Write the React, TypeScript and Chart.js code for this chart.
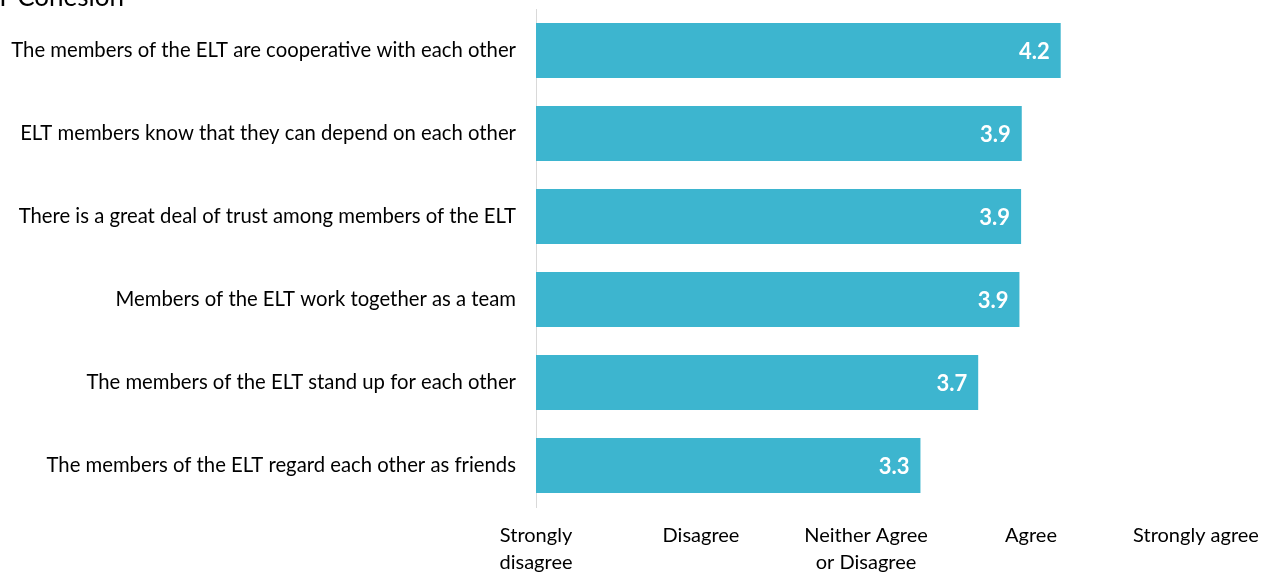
import React, { useEffect, useRef } from "react";
import { Chart, registerables } from "chart.js";

Chart.register(...registerables);

const TITLE = "ELT Cohesion";
const categories = [
  "The members of the ELT are cooperative with each other",
  "ELT members know that they can depend on each other",
  "There is a great deal of trust among members of the ELT",
  "Members of the ELT work together as a team",
  "The members of the ELT stand up for each other",
  "The members of the ELT regard each other as friends",
];
const scores = [4.18, 3.944, 3.94, 3.93, 3.68, 3.33];
const tickLabels: (string | string[])[] = [
  ["Strongly", "disagree"],
  "Disagree",
  ["Neither Agree", "or Disagree"],
  "Agree",
  "Strongly agree",
];

const FONT = "Lato, 'Open Sans', sans-serif";
const BAR = "#3DB5CF";

export default function App() {
  const ref = useRef<HTMLCanvasElement | null>(null);

  useEffect(() => {
    document.body.style.margin = "0";
    if (!ref.current) return;

    const labelPlugin = {
      id: "barLabels",
      afterDatasetsDraw(chart: any) {
        const ctx = chart.ctx;
        const meta = chart.getDatasetMeta(0);
        ctx.save();
        ctx.fillStyle = "#ffffff";
        ctx.font = `bold 22px ${FONT}`;
        ctx.textAlign = "right";
        ctx.textBaseline = "middle";
        meta.data.forEach((el: any, i: number) => {
          ctx.fillText(scores[i].toFixed(1), el.x - 11, el.y + 1);
        });
        ctx.restore();
      },
    };

    const titlePlugin = {
      id: "cutTitle",
      afterDraw(chart: any) {
        const ctx = chart.ctx;
        ctx.save();
        ctx.fillStyle = "#000000";
        ctx.font = `26px ${FONT}`;
        ctx.textAlign = "right";
        ctx.textBaseline = "alphabetic";
        ctx.fillText(TITLE, 124, 6);
        ctx.restore();
      },
    };

    const chart = new Chart(ref.current, {
      type: "bar",
      data: {
        labels: categories,
        datasets: [
          {
            data: scores,
            backgroundColor: BAR,
            borderWidth: 0,
            base: 1,
            categoryPercentage: 1,
            barPercentage: 0.663,
          },
        ],
      },
      options: {
        indexAxis: "y",
        animation: false,
        responsive: false,
        maintainAspectRatio: false,
        layout: { padding: { top: 9, right: 67, left: 0, bottom: 0 } },
        plugins: {
          legend: { display: false },
          tooltip: { enabled: false },
          title: { display: false },
        },
        scales: {
          x: {
            type: "linear",
            min: 1,
            max: 5,
            grid: { display: false, drawTicks: false },
            border: { display: false },
            afterFit(scale: any) {
              scale.height = 65;
              scale.paddingLeft = 0;
              scale.paddingRight = 0;
              scale.paddingTop = 0;
              scale.paddingBottom = 0;
            },
            afterBuildTicks(scale: any) {
              scale.ticks = [1, 2, 3, 4, 5].map((v) => ({ value: v }));
            },
            ticks: {
              autoSkip: false,
              maxRotation: 0,
              minRotation: 0,
              padding: 15,
              color: "#000000",
              font: { family: FONT, size: 20, lineHeight: 1.35 },
              callback: (v: any) => tickLabels[Number(v) - 1],
            },
          },
          y: {
            grid: { display: false, drawTicks: false },
            border: { display: true, color: "#d9d9d9", width: 1 },
            afterFit(scale: any) {
              scale.width = 536;
              scale.paddingLeft = 0;
              scale.paddingRight = 0;
              scale.paddingTop = 0;
              scale.paddingBottom = 0;
            },
            ticks: {
              padding: 20,
              color: "#000000",
              font: { family: FONT, size: 20.3 },
            },
          },
        },
      },
      plugins: [labelPlugin, titlePlugin],
    });

    return () => chart.destroy();
  }, []);

  return (
    <div style={{ width: 1263, height: 572, position: "relative" }}>
      <canvas ref={ref} width={1263} height={572} style={{ display: "block" }} />
    </div>
  );
}
